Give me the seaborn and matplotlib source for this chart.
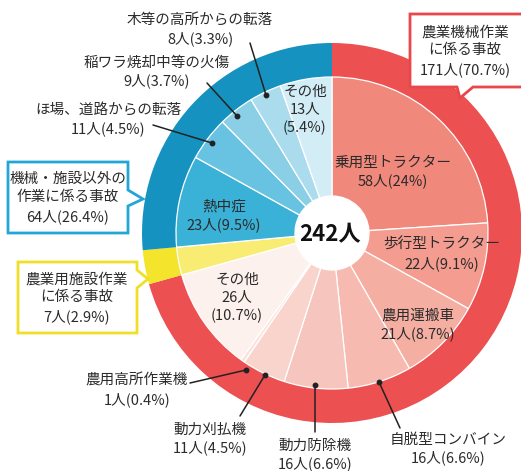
import matplotlib
matplotlib.use("Agg")
import matplotlib.pyplot as plt
from matplotlib.patches import Polygon
import seaborn as sns

sns.set_theme(style="white")
plt.rcParams['font.family'] = ['Noto Sans CJK JP', 'DejaVu Sans']

# ---- data ----
groups = ["農業機械作業に係る事故", "農業用施設作業に係る事故", "機械・施設以外の作業に係る事故"]
group_values = [171, 7, 64]
sub_labels = ["乗用型トラクター", "歩行型トラクター", "農用運搬車", "自脱型コンバイン", "動力防除機",
              "動力刈払機", "農用高所作業機", "その他",
              "農業用施設作業",
              "熱中症", "ほ場、道路からの転落", "稲ワラ焼却中等の火傷", "木等の高所からの転落", "その他"]
sub_values = [58, 22, 21, 16, 16, 11, 1, 26, 7, 23, 11, 9, 8, 13]
sub_pcts = ["24", "9.1", "8.7", "6.6", "6.6", "4.5", "0.4", "10.7", "2.9", "9.5", "4.5", "3.7", "3.3", "5.4"]
total = 242

group_colors = ["#EC5051", "#F4E42C", "#1592BF"]
sub_colors = ["#F1887C", "#F39C8F", "#F5AEA2", "#F6BAB0", "#F6C5BD", "#F9D4CD", "#FBE2DC", "#FDF1EE",
              "#F8EC72",
              "#3AB1D6", "#68C2E1", "#8BCFE7", "#AADCEE", "#D3EDF7"]

W, H = 521, 471
fig = plt.figure(figsize=(W / 100, H / 100), dpi=100)
cx, cy, R = 332, 233, 190
pax = fig.add_axes([(cx - R) / W, (H - cy - R) / H, 2 * R / W, 2 * R / H])
r_in = 156 / R
r_hole = 37 / R
pax.pie(group_values, radius=1.0, colors=group_colors, startangle=90, counterclock=False,
        wedgeprops=dict(width=1 - r_in + 0.01, linewidth=0))
pax.pie(sub_values, radius=r_in, colors=sub_colors, startangle=90, counterclock=False,
        wedgeprops=dict(width=r_in - r_hole, edgecolor="white", linewidth=0.9))
pax.set_xlim(-1, 1)
pax.set_ylim(-1, 1)
pax.set_aspect("auto")
pax.axis("off")

# overlay in pixel coords for annotations
ov = fig.add_axes([0, 0, 1, 1], zorder=5)
ov.set_xlim(0, W)
ov.set_ylim(H, 0)
ov.axis("off")

tc = "#2b2b2b"
fs = 10.5
ls = 1.38

ov.text(cx - 2, cy + 2, f"{total}人", ha="center", va="center", fontsize=16, fontweight="bold", color="#111")

def lab(i, x, y, wrap=False, name=None):
    n = name if name is not None else sub_labels[i]
    if wrap:
        s = f"{n}\n{sub_values[i]}人\n({sub_pcts[i]}%)"
    else:
        s = f"{n}\n{sub_values[i]}人({sub_pcts[i]}%)"
    ov.text(x, y, s, ha="center", va="center", fontsize=fs, color=tc, linespacing=ls)

# inside labels
lab(0, 393, 172)
lab(1, 442, 254)
lab(2, 418, 325)
lab(7, 237, 298, wrap=True)
lab(9, 224, 216)
lab(13, 305, 110, wrap=True)

# outside labels with leader lines
def leader(p0, p1):
    ov.plot([p0[0], p1[0]], [p0[1], p1[1]], color="#222", lw=1.1)
    ov.plot([p1[0]], [p1[1]], "o", color="#222", ms=3.2)

lab(3, 448, 449)
leader((400, 428), (379, 382))
lab(4, 315, 455)
leader((315, 432), (315, 385))
lab(5, 210, 439)
leader((240, 416), (265, 375))
lab(6, 137, 390)
leader((190, 383), (246, 370))
lab(10, 108, 120)
leader((153, 125), (212, 143))
lab(11, 157, 72)
leader((207, 83), (237, 116))
lab(12, 200, 30)
leader((250, 43), (266, 95))

# callout boxes
def callout(pts, color, text, tx, ty):
    ov.add_patch(Polygon(pts, closed=True, facecolor="white", edgecolor=color, lw=2.0, joinstyle="miter"))
    ov.text(tx, ty, text, ha="center", va="center", fontsize=fs, color=tc, linespacing=ls)

# red (machine)
callout([(410, 14), (530, 14), (530, 87), (473, 87), (460, 98), (457, 87), (410, 87)],
        "#E8474C", f"農業機械作業\nに係る事故\n{group_values[0]}人(70.7%)", 465, 51)
# blue (other)
callout([(8, 162), (128, 162), (128, 190), (143, 199), (128, 206), (128, 233), (8, 233)],
        "#22A6D6", f"機械・施設以外の\n作業に係る事故\n{group_values[2]}人(26.4%)", 68, 198)
# yellow (facility)
callout([(18, 262), (137, 262), (137, 270), (148, 279), (137, 288), (137, 333), (18, 333)],
        "#F0DF26", f"農業用施設作業\nに係る事故\n{group_values[1]}人(2.9%)", 77, 298)

fig.savefig("out.png", dpi=100, facecolor="white")
